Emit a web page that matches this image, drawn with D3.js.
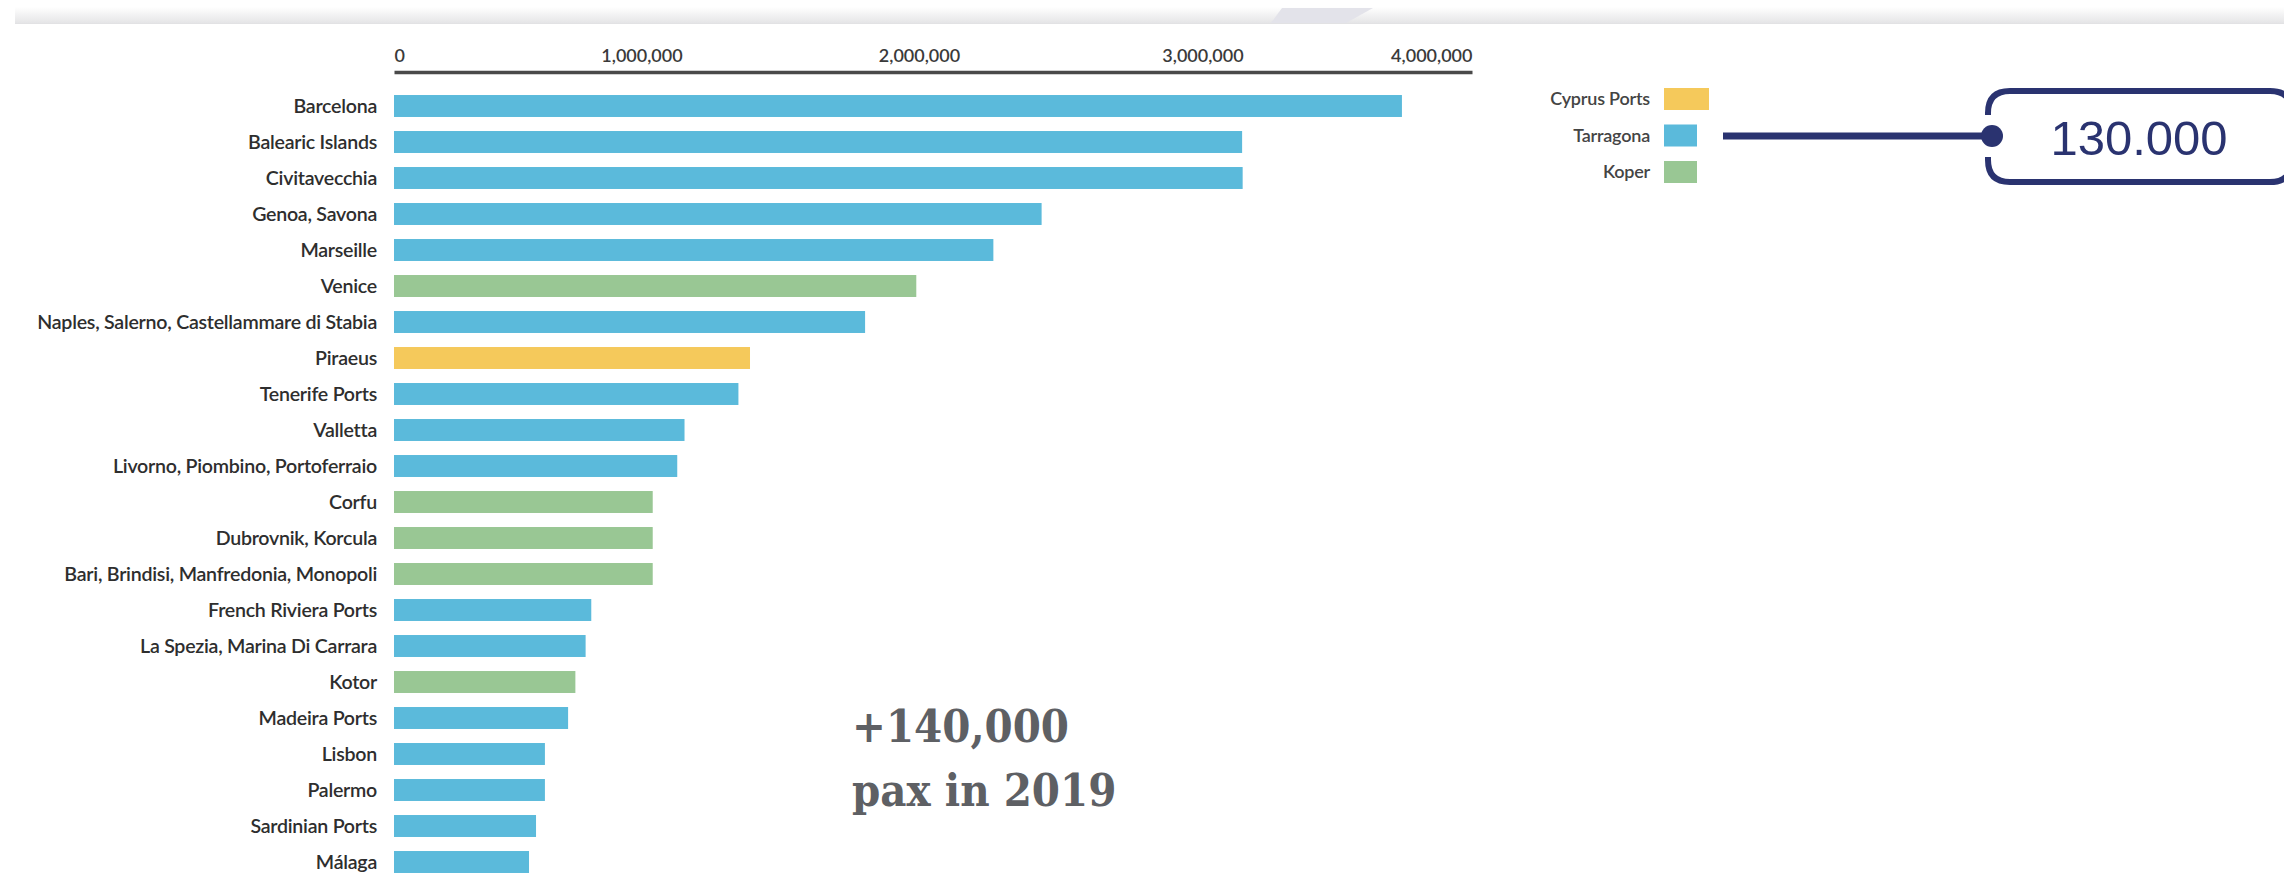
<!DOCTYPE html>
<html>
<head>
<meta charset="utf-8">
<script src="https://cdn.jsdelivr.net/npm/d3@7"></script>
<style>
  html, body { margin: 0; padding: 0; background: #ffffff; }
  svg { display: block; }
</style>
</head>
<body>
<svg id="chart" width="2284" height="885"></svg>
<script>
// ---------- DATA ----------
const categories = [
  "Barcelona", "Balearic Islands", "Civitavecchia", "Genoa, Savona", "Marseille",
  "Venice", "Naples, Salerno, Castellammare di Stabia", "Piraeus", "Tenerife Ports",
  "Valletta", "Livorno, Piombino, Portoferraio", "Corfu", "Dubrovnik, Korcula",
  "Bari, Brindisi, Manfredonia, Monopoli", "French Riviera Ports",
  "La Spezia, Marina Di Carrara", "Kotor", "Madeira Ports", "Lisbon", "Palermo",
  "Sardinian Ports", "Málaga"
];
const values = [
  3740000, 3147000, 3149000, 2403000, 2224000,
  1938000, 1748000, 1321000, 1278000,
  1078000, 1051000, 960000, 960000,
  960000, 732000,
  711000, 673000, 646000, 560000, 560000,
  527000, 501000
];
const groups = [
  "Tarragona", "Tarragona", "Tarragona", "Tarragona", "Tarragona",
  "Koper", "Tarragona", "Cyprus Ports", "Tarragona",
  "Tarragona", "Tarragona", "Koper", "Koper",
  "Koper", "Tarragona",
  "Tarragona", "Koper", "Tarragona", "Tarragona", "Tarragona",
  "Tarragona", "Tarragona"
];
const tickValues = [0, 1000000, 2000000, 3000000, 4000000];
const legendLabels = ["Cyprus Ports", "Tarragona", "Koper"];
const calloutText = "130.000";
const annotationLines = ["+140,000", "pax in 2019"];

// ---------- STYLE / LAYOUT ----------
const colorScale = d3.scaleOrdinal()
  .domain(legendLabels)
  .range(["#F5C95B", "#5BBADB", "#99C794"]);

const svg = d3.select("#chart");
const W = 2284, H = 885;
const labelFont = "Lato, 'Noto Sans', sans-serif";

// header band
const defs = svg.append("defs");
const grad = defs.append("linearGradient").attr("id", "hdr").attr("x1", 0).attr("y1", 0).attr("x2", 0).attr("y2", 1);
grad.append("stop").attr("offset", "0%").attr("stop-color", "#ffffff");
grad.append("stop").attr("offset", "100%").attr("stop-color", "#e5e5e7");
svg.append("rect").attr("x", 15).attr("y", 7).attr("width", W - 15).attr("height", 16).attr("fill", "url(#hdr)");
svg.append("line").attr("x1", 15).attr("x2", W).attr("y1", 23.5).attr("y2", 23.5).attr("stroke", "#e2e2e4").attr("stroke-width", 1);
svg.append("path").attr("d", "M1282,8 L1373,8 L1346,23 L1271,23 Z").attr("fill", "#e3e3ea");

// scales
const x = d3.scaleLinear().domain([0, 4000000]).range([394, 1472]);
const y = d3.scaleBand().domain(categories).range([88, 880]).paddingInner(0.39).paddingOuter(0.195);

// axis
const axisG = svg.append("g").attr("transform", "translate(0,72)")
  .call(d3.axisTop(x).tickValues(tickValues).tickSize(0).tickPadding(10).tickFormat(d3.format(",")));
axisG.select(".domain").attr("stroke", "#4a4a4a").attr("stroke-width", 3.5);
axisG.selectAll(".tick text")
  .attr("font-family", labelFont)
  .attr("font-weight", 600)
  .attr("font-size", 18)
  .attr("fill", "#3a3a3a")
  .attr("dx", (d, i) => (i === 1 ? -22 : i === 2 ? -14 : 0))
  .attr("text-anchor", (d, i) => i === 0 ? "start" : (i === tickValues.length - 1 ? "end" : "middle"));

// bars
const rows = categories.map((c, i) => ({ name: c, value: values[i], group: groups[i] }));
svg.append("g").selectAll("rect").data(rows).join("rect")
  .attr("x", x(0))
  .attr("y", d => y(d.name))
  .attr("width", d => x(d.value) - x(0))
  .attr("height", y.bandwidth())
  .attr("fill", d => colorScale(d.group));

// category labels
svg.append("g").selectAll("text").data(rows).join("text")
  .attr("x", 377)
  .attr("y", d => y(d.name) + y.bandwidth() / 2)
  .attr("dy", "0.36em")
  .attr("text-anchor", "end")
  .attr("font-family", labelFont)
  .attr("font-weight", 600)
  .attr("font-size", 19.6)
  .attr("letter-spacing", -0.25)
  .attr("fill", "#2e2e2e")
  .text(d => d.name);

// legend
const legendY = d3.scalePoint().domain(legendLabels).range([99, 172]);
const swatchW = { "Cyprus Ports": 45, "Tarragona": 33, "Koper": 33 };
const lg = svg.append("g");
lg.selectAll("text").data(legendLabels).join("text")
  .attr("x", 1650)
  .attr("y", d => legendY(d))
  .attr("dy", "0.36em")
  .attr("text-anchor", "end")
  .attr("font-family", labelFont)
  .attr("font-weight", 600)
  .attr("font-size", 18)
  .attr("letter-spacing", -0.2)
  .attr("fill", "#444")
  .text(d => d);
lg.selectAll("rect").data(legendLabels).join("rect")
  .attr("x", 1664)
  .attr("y", d => legendY(d) - 11)
  .attr("width", d => swatchW[d])
  .attr("height", 22)
  .attr("fill", d => colorScale(d));

// callout
const navy = "#2A3370";
const cy = 136;
svg.append("line").attr("x1", 1723).attr("x2", 1990).attr("y1", cy).attr("y2", cy)
  .attr("stroke", navy).attr("stroke-width", 7);
const bx = 1988, bt = 91, bb = 182, br = 2292, r = 22;
svg.append("path")
  .attr("d", `M${bx},${cy - 21} L${bx},${bt + r} Q${bx},${bt} ${bx + r},${bt} L${br - r},${bt} Q${br},${bt} ${br},${bt + r} L${br},${bb - r} Q${br},${bb} ${br - r},${bb} L${bx + r},${bb} Q${bx},${bb} ${bx},${bb - r} L${bx},${cy + 21}`)
  .attr("fill", "none").attr("stroke", navy).attr("stroke-width", 6);
svg.append("circle").attr("cx", 1992).attr("cy", cy).attr("r", 11).attr("fill", navy);
svg.append("text").attr("x", 2139).attr("y", 155)
  .attr("text-anchor", "middle")
  .attr("font-family", "'Liberation Sans', Arial, sans-serif")
  .attr("font-size", 49)
  .attr("fill", navy)
  .text(calloutText);

// annotation
svg.append("g").selectAll("text").data(annotationLines).join("text")
  .attr("x", 852)
  .attr("y", (d, i) => 742 + i * 64)
  .attr("font-family", "'DejaVu Serif Condensed', 'DejaVu Serif', serif")
  .attr("font-weight", "bold")
  .attr("font-size", 45)
  .attr("fill", "#5e6064")
  .text(d => d);
</script>
</body>
</html>
